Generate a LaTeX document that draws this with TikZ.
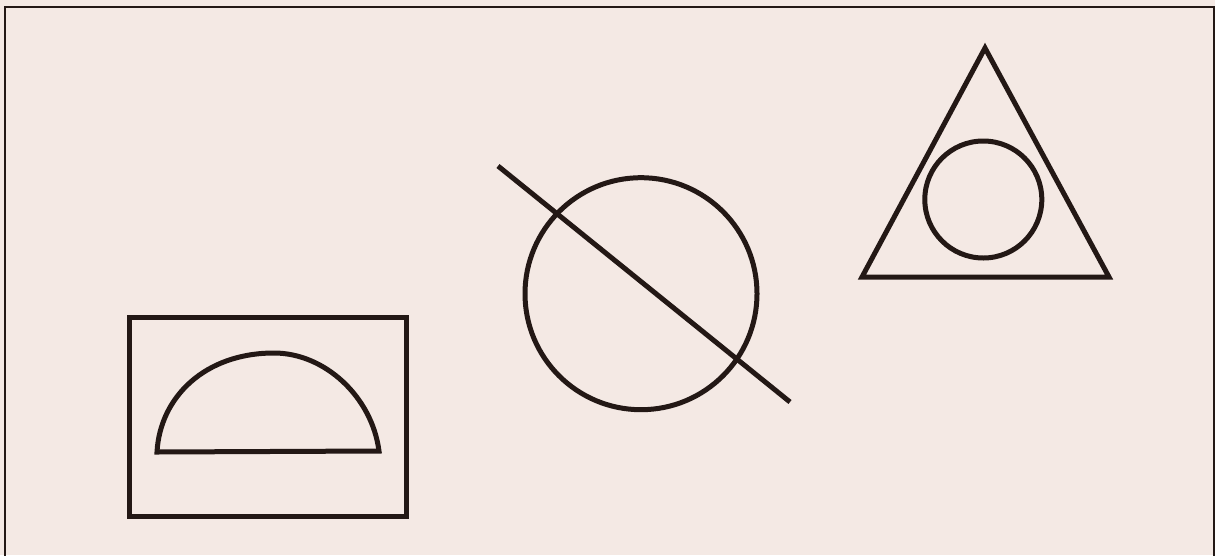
\documentclass[tikz,border=0pt]{standalone}
\usetikzlibrary{calc}
\definecolor{bg}{HTML}{F4E9E4}
\definecolor{ink}{HTML}{231815}
\tikzset{
  shape line/.style={draw=ink, line width=5pt, line join=miter},
  frame line/.style={draw=ink, line width=2.2pt}
}
\begin{document}
\begin{tikzpicture}[x=1pt,y=-1pt]
\fill[bg] (0,0) rectangle (1215,555);
\useasboundingbox (0,0) rectangle (1215,555);
% frame (top, left, right)
\draw[frame line] (5,556) -- (5,7) -- (1214,7) -- (1214,556);
% rectangle with half dome
\draw[shape line] (129.5,317.3) rectangle (406.5,516.7);
\draw[shape line] (157,452) .. controls (160,397) and (205,353) .. (274,353)
  .. controls (325,353) and (372,397) .. (379,451) -- cycle;
% circle crossed by a line
\draw[shape line] (641,293.7) circle[radius=116];
\coordinate (l1) at (498,166);
\coordinate (l2) at (790,402);
\draw[shape line] (l1) -- (l2);
% triangle with inner circle
\draw[shape line] (985,48) -- (1109,277) -- (862,277) -- cycle;
\draw[shape line] (983.3,199.5) circle[radius=58.5];
\end{tikzpicture}
\end{document}
